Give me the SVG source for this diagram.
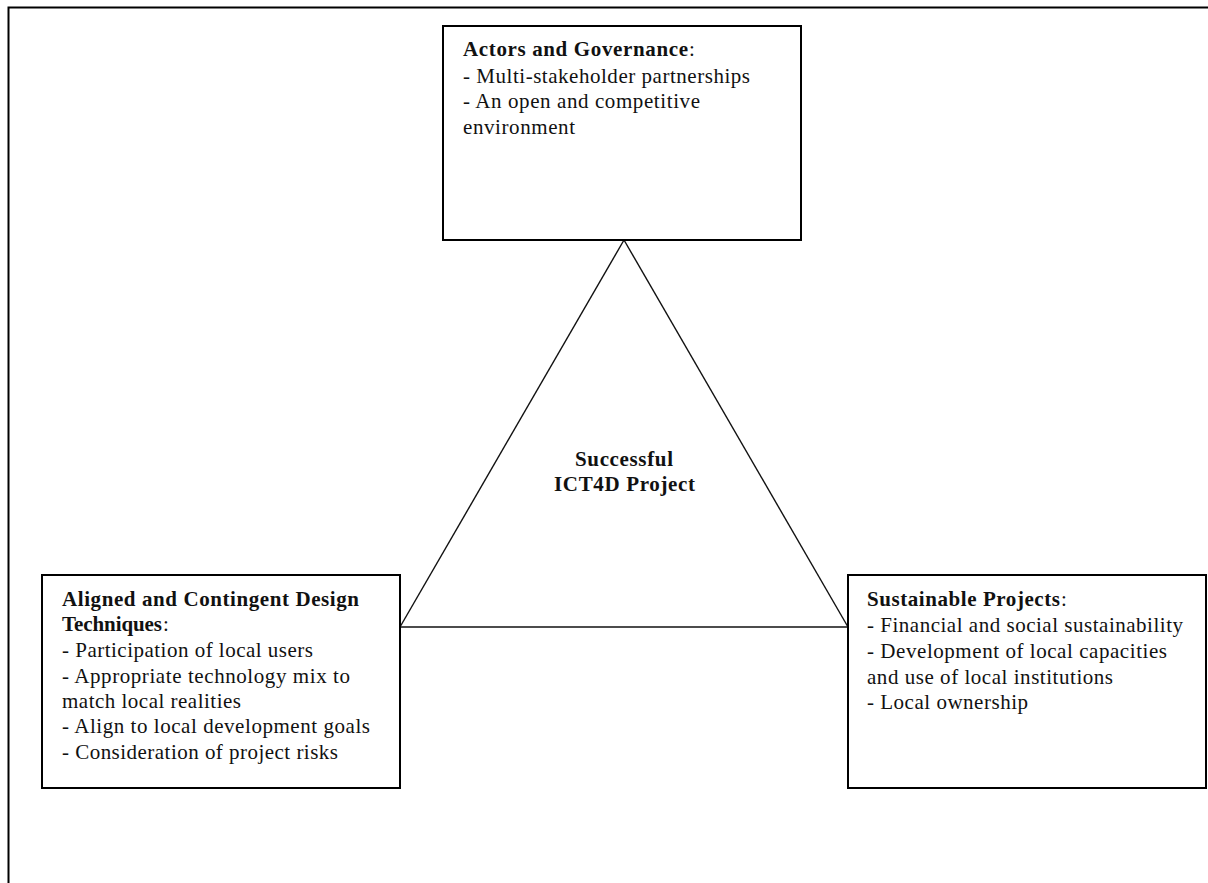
<svg xmlns="http://www.w3.org/2000/svg" width="1208" height="883" viewBox="0 0 1208 883">
  <style>
    .box { fill: #ffffff; stroke: #000000; stroke-width: 2; }
    .edge { fill: none; stroke: #111111; stroke-width: 1.4; }
    .frame { fill: none; stroke: #000000; stroke-width: 2; }
    text { font-family: "Liberation Serif", "Times New Roman", serif; font-size: 21px; fill: #111111; }
    .b { font-weight: bold; }
  </style>
  <rect width="1208" height="883" fill="#ffffff"/>
  <!-- page frame -->
  <path class="frame" d="M8.5,883 V7.5 H1208"/>

  <!-- connectors: the triangle joining the three factors -->
  <g id="connectors">
    <line class="edge" x1="624" y1="240" x2="400" y2="627"/>
    <line class="edge" x1="624" y1="240" x2="848" y2="627"/>
    <line class="edge" x1="400" y1="627" x2="848" y2="627"/>
  </g>

  <g id="center">
    <text class="b" x="575" y="466" textLength="98" lengthAdjust="spacing">Successful</text>
    <text class="b" x="554" y="491" textLength="141" lengthAdjust="spacing">ICT4D Project</text>
  </g>

  <g id="actors">
    <rect class="box" x="443" y="26" width="358" height="214"/>
    <text class="b" x="463" y="56" textLength="225" lengthAdjust="spacing">Actors and Governance</text>
    <text x="689" y="56">:</text>
    <text x="463" y="83" textLength="287" lengthAdjust="spacing">- Multi-stakeholder partnerships</text>
    <text x="463" y="108" textLength="237" lengthAdjust="spacing">- An open and competitive</text>
    <text x="463" y="134" textLength="112" lengthAdjust="spacing">environment</text>
  </g>

  <g id="design">
    <rect class="box" x="42" y="575" width="358" height="213"/>
    <text class="b" x="62" y="606" textLength="297" lengthAdjust="spacing">Aligned and Contingent Design</text>
    <text class="b" x="62" y="631" textLength="100" lengthAdjust="spacing">Techniques</text>
    <text x="163" y="631">:</text>
    <text x="62" y="657" textLength="251" lengthAdjust="spacing">- Participation of local users</text>
    <text x="62" y="683" textLength="288" lengthAdjust="spacing">- Appropriate technology mix to</text>
    <text x="62" y="708" textLength="179" lengthAdjust="spacing">match local realities</text>
    <text x="62" y="733" textLength="308" lengthAdjust="spacing">- Align to local development goals</text>
    <text x="62" y="759" textLength="276" lengthAdjust="spacing">- Consideration of project risks</text>
  </g>

  <g id="sustainable">
    <rect class="box" x="848" y="575" width="358" height="213"/>
    <text class="b" x="867" y="606" textLength="193" lengthAdjust="spacing">Sustainable Projects</text>
    <text x="1061" y="606">:</text>
    <text x="867" y="632" textLength="316" lengthAdjust="spacing">- Financial and social sustainability</text>
    <text x="867" y="658" textLength="300" lengthAdjust="spacing">- Development of local capacities</text>
    <text x="867" y="684" textLength="246" lengthAdjust="spacing">and use of local institutions</text>
    <text x="867" y="709" textLength="161" lengthAdjust="spacing">- Local ownership</text>
  </g>
</svg>
